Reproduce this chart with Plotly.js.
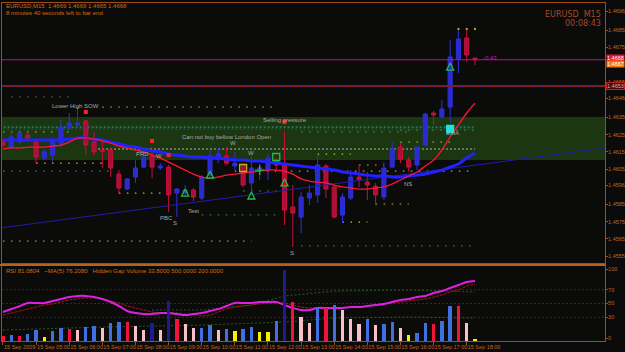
<!DOCTYPE html>
<html><head><meta charset="utf-8">
<script src="https://cdn.plot.ly/plotly-3.0.1.min.js"></script>
<style>html,body{margin:0;padding:0;background:#0b0b0b;}#chart{width:625px;height:352px;}</style>
</head><body><div id="chart"></div>
<script>
// ---------- DATA ----------
const bars = Array.from({length:58},(_,i)=>i); // M15 bar index, 04:00 .. 18:15
const hourTickBars = [0,4,8,12,16,20,24,28,32,36,40,44,48,52,56];
const hourLabels = ["15 Sep 2009","15 Sep 05:00","15 Sep 06:00","15 Sep 07:00","15 Sep 08:00","15 Sep 09:00","15 Sep 10:00","15 Sep 11:00","15 Sep 12:00","15 Sep 13:00","15 Sep 14:00","15 Sep 15:00","15 Sep 16:00","15 Sep 17:00","15 Sep 18:00"];

const openP = [1.46213,1.46178,1.46207,1.46247,1.46207,1.46115,1.46132,1.46201,1.46288,1.46305,
1.46328,1.46207,1.46161,1.46161,1.46023,1.45937,1.46006,1.46063,1.46127,1.46058,
1.46063,1.45914,1.45914,1.45931,1.45885,1.46017,1.46115,1.46127,1.46069,1.46075,
1.45972,1.46052,1.46046,1.46104,1.46075,1.45834,1.45776,1.45885,1.45903,1.46069,
1.45949,1.45788,1.45885,1.46006,1.45977,1.45954,1.45891,1.46063,1.46178,1.46104,
1.46075,1.46190,1.46374,1.46351,1.46408,1.46684,1.46805,1.4669];
const highP = [1.46224,1.46265,1.46265,1.46259,1.46213,1.46161,1.46230,1.46334,1.46374,1.46408,
1.46334,1.46265,1.46207,1.46173,1.46046,1.46000,1.46104,1.46144,1.46161,1.46086,
1.46075,1.45943,1.45960,1.45943,1.46017,1.46161,1.46173,1.46178,1.46150,1.46086,
1.46132,1.46081,1.46138,1.46115,1.46265,1.45960,1.45920,1.45960,1.46132,1.46081,
1.45960,1.45914,1.46046,1.46075,1.46035,1.45972,1.46092,1.46207,1.46201,1.46121,
1.46178,1.46374,1.46385,1.46449,1.46793,1.46851,1.46851,1.4669];
const lowP = [1.46178,1.46173,1.46190,1.46219,1.46086,1.46104,1.46092,1.46178,1.46276,1.46299,
1.46132,1.46132,1.46058,1.46006,1.45914,1.45931,1.45972,1.46058,1.46000,1.46046,
1.45805,1.45776,1.45891,1.45868,1.45874,1.46006,1.46086,1.46075,1.46046,1.45949,
1.45931,1.45989,1.45989,1.46046,1.45730,1.45604,1.45684,1.45845,1.45857,1.45885,
1.45770,1.45742,1.45874,1.45949,1.45874,1.45845,1.45874,1.46058,1.46086,1.46035,
1.46046,1.46184,1.46305,1.46345,1.46322,1.46604,1.46667,1.4665];
const closeP = [1.46190,1.46236,1.46259,1.46230,1.46121,1.46150,1.46219,1.46293,1.46316,1.46316,
1.46190,1.46150,1.46155,1.46058,1.45943,1.45995,1.46058,1.46121,1.46063,1.46069,
1.45903,1.45937,1.45931,1.45891,1.46006,1.46127,1.46138,1.46086,1.46086,1.45960,
1.46058,1.46058,1.46115,1.46075,1.45816,1.45799,1.45891,1.45914,1.46075,1.45937,
1.45776,1.45891,1.46006,1.45989,1.45960,1.45903,1.46058,1.46167,1.46109,1.46063,
1.46178,1.46368,1.46362,1.46397,1.46696,1.46799,1.46707,1.4668];

const slowMA = [1.46219,1.46219,1.46219,1.46219,1.46219,1.46219,1.46219,1.46219,1.46224,1.46230,
1.46230,1.46224,1.46219,1.46207,1.46196,1.46184,1.46178,1.46167,1.46155,1.46150,
1.46138,1.46132,1.46127,1.46121,1.46121,1.46115,1.46115,1.46109,1.46104,1.46104,
1.46098,1.46098,1.46092,1.46086,1.46081,1.46075,1.46069,1.46063,1.46058,1.46052,
1.46046,1.46035,1.46029,1.46023,1.46017,1.46012,1.46012,1.46006,1.46006,1.46012,
1.46017,1.46023,1.46035,1.46046,1.46063,1.46081,1.46115,1.46144];
const fastMA = [1.46167,1.46173,1.46173,1.46178,1.46178,1.46178,1.46184,1.46190,1.46207,1.46230,
1.46230,1.46224,1.46213,1.46201,1.46184,1.46173,1.46161,1.46150,1.46132,1.46115,
1.46092,1.46069,1.46046,1.46023,1.46006,1.46000,1.46006,1.46017,1.46023,1.46029,
1.46035,1.46040,1.46046,1.46046,1.46040,1.46023,1.45995,1.45983,1.45977,1.45972,
1.45960,1.45949,1.45943,1.45937,1.45937,1.45943,1.45949,1.45966,1.45989,1.46012,
1.46035,1.46069,1.46104,1.46161,1.46236,1.46305,1.46374,1.46431];

const trendBars = [-0.36, 72.7];
const trendPrices = [1.45713, 1.46173];

const bidPrice = 1.4668;
const markedLevel = 1.46529;
const zoneTop = 1.46351, zoneBottom = 1.46104;

// dotted levels: start bar, end bar, price, colour
const levelStart = [1,12,0,36,4,0,14,0,28,38,43,29,45,24,41,36,48,48];
const levelEnd   = [8,33,8,49,13,13,20,30,57,42,46,33,49,33,44,57,54,57];
const levelPrice = [1.46466,1.46408,1.46265,1.46265,1.46086,1.46040,1.45914,1.45638,1.46040,1.46138,1.46075,1.45926,1.45851,1.45788,1.45747,1.45610,1.46207,1.46276];
const levelColor = ["#3a8a3a","#7a9a6a","#9aa830","#4a9a3a","#c8c020","#3a8a3a","#c8c020","#a0a030","#a8a840","#c8c020","#c8c020","#3a8a3a","#c8c020","#3a8a3a","#c8c020","#2a8a3a","#a0b030","#3a9a3a"];

const noteText  = ["Lower High SOW","Selling pressure","Can not buy bellow London Open","PRD","W","W","W","PBC","S","Test","S","NS","EMA","-0.43"];
const noteBar   = [8.8,34.0,27.0,16.9,18.8,27.8,30.0,19.8,20.8,23.0,34.9,48.9,54.3,58.8];
const notePrice = [1.46414,1.46334,1.46236,1.46138,1.46127,1.46201,1.46144,1.45770,1.45742,1.45811,1.45569,1.45966,1.46259,1.46690];

const dotBars = [10,18,20,34];
const dotPrices = [1.46380,1.46213,1.46132,1.46322];

const markBars   = [22,25,30,34,33,29,31,54,54];
const markPrices = [1.45937,1.46040,1.45920,1.45995,1.46121,1.46058,1.46046,1.46661,1.46282];
const markSymbols= ["arrow-up-open","arrow-up-open","arrow-up-open","arrow-up-open","square-open","square-open","cross-thin","arrow-up-open","square"];
const markColors = ["#20c040","#20c040","#20c040","#20c040","#20c040","#c0b020","#20c040","#20c040","#20e0e0"];

const fractalBars = [55,56,57];
const fractalPrices = [1.46857,1.46857,1.46857];

const priceTickVals = [1.4555,1.4565,1.4575,1.4585,1.4596,1.4605,1.4615,1.4625,1.4635,1.4646,1.4655,1.4675,1.4685,1.4696];
const priceTickText = ["1.4555","1.4565","1.4575","1.4585","1.4596","1.4605","1.4615","1.4625","1.4635","1.4646","1.4655","1.4675","1.4685","1.4696"];

const rsi = [37.7,42,46,50.7,50.7,50.7,53.6,56.5,59.4,60.9,
60.9,59.4,56.5,52.2,46.4,39.1,36.2,34.8,34.8,36.2,
36.2,34.8,33.3,34.8,36.2,39.1,42,46.4,50.7,50.7,
50.7,52.2,52.2,52.2,47.8,43.5,40.6,40.6,43.5,43.5,
43.5,43.5,44.9,44.9,46.4,47.8,49.3,52.2,55.1,56.5,
59.4,60.9,65.2,68.1,72.5,76.8,81.2,82.6];
const rsiMA = [33.3,36.2,39.1,42,44.9,47.8,49.3,52.2,55.1,56.5,
58,58,56.5,53.6,50.7,46.4,43.5,40.6,37.7,36.2,
36.2,36.2,34.8,34.8,31.9,33.3,37.7,42,44.9,46.4,
47.8,49.3,50.7,50.7,50.7,47.8,44.9,43.5,43.5,43.5,
43.5,43.5,44.9,44.9,46.4,47.8,49.3,50.7,52.2,53.6,
55.1,56.5,59.4,62.3,66.7,69.6,75.4,78.3];
const bandBars  = [18,24,30,34,40,49,57];
const bandUpper = [40.6,40.6,47.8,60.9,68.1,69.6,66.7];
const bandLowBars = [0,12,24,34,40,49,57];
const bandLower = [11.6,15.9,18.8,23.2,29,30.4,29];
const rsiLevels = [30,50,70];

const volume = [50,60,50,70,110,40,100,130,120,110,140,150,130,180,190,190,150,110,180,110,
400,220,170,130,130,160,110,120,100,120,140,90,90,200,710,390,240,180,330,330,
360,310,220,170,220,160,170,190,130,60,80,180,170,200,350,350,180,20];
const volumeType = ["R","B","R","B","B","Y","B","B","R","P","B","B","P","B","B","R","P","P","N","P",
"N","R","P","P","B","B","P","B","Y","B","B","Y","Y","B","N","R","P","P","B","R",
"B","P","P","P","B","P","B","B","P","Y","B","B","R","B","B","R","P","Y"];
const volumeColors = {B:"#3f6fe0",R:"#f0143c",P:"#f8c0c8",Y:"#f8f000",N:"#1c1c90"};

// ---------- DRAWING ----------
const axisCol = "#9a4e1a", textCol = "#c8641c";
const fnt = "Liberation Sans, Arial, sans-serif";

const traces = [];
traces.push({type:'scatter',mode:'lines',x:trendBars,y:trendPrices,line:{color:'#1e1ea8',width:1},hoverinfo:'skip',xaxis:'x',yaxis:'y'});
traces.push({type:'candlestick',x:bars,open:openP,high:highP,low:lowP,close:closeP,
  increasing:{line:{color:'#3030d8',width:1},fillcolor:'#2a2ad0'},
  decreasing:{line:{color:'#c8103c',width:1},fillcolor:'#a81038'},
  whiskerwidth:0,hoverinfo:'skip',xaxis:'x',yaxis:'y'});
traces.push({type:'scatter',mode:'lines',x:bars,y:slowMA,line:{color:'#2222ff',width:3,shape:'spline'},hoverinfo:'skip'});
traces.push({type:'scatter',mode:'lines',x:bars,y:fastMA,line:{color:'#ff1438',width:1.3,shape:'spline'},hoverinfo:'skip'});
traces.push({type:'scatter',mode:'markers',x:dotBars,y:dotPrices,marker:{symbol:'square',size:4,color:'#ff2020'},hoverinfo:'skip'});
traces.push({type:'scatter',mode:'markers',x:markBars,y:markPrices,marker:{symbol:markSymbols,size:7,color:markColors,line:{color:markColors,width:1.3}},hoverinfo:'skip'});
traces.push({type:'scatter',mode:'markers',x:fractalBars,y:fractalPrices,marker:{symbol:'square',size:2,color:'#b0b020'},hoverinfo:'skip'});

// panel
traces.push({type:'bar',x:bars,y:volume,width:0.4,marker:{color:volumeType.map(t=>volumeColors[t]),line:{width:0}},hoverinfo:'skip',xaxis:'x2',yaxis:'y3'});
traces.push({type:'scatter',mode:'lines',x:bandBars,y:bandUpper,line:{color:'#1f5a1f',width:1,dash:'2px,2px'},hoverinfo:'skip',xaxis:'x2',yaxis:'y2'});
traces.push({type:'scatter',mode:'lines',x:bandLowBars,y:bandLower,line:{color:'#1f5a1f',width:1,dash:'2px,2px'},hoverinfo:'skip',xaxis:'x2',yaxis:'y2'});
traces.push({type:'scatter',mode:'lines',x:bars,y:rsiMA,line:{color:'#a01818',width:1,dash:'3px,1px',shape:'spline'},hoverinfo:'skip',xaxis:'x2',yaxis:'y2'});
traces.push({type:'scatter',mode:'lines',x:bars,y:rsi,line:{color:'#e020e0',width:2,shape:'spline'},hoverinfo:'skip',xaxis:'x2',yaxis:'y2'});

const shapes = [];
shapes.push({type:'rect',xref:'x domain',yref:'y',x0:0,x1:1,y0:zoneBottom,y1:zoneTop,fillcolor:'#1b3611',line:{width:0},layer:'below'});
for(let i=0;i<levelPrice.length;i++){
  shapes.push({type:'line',xref:'x',yref:'y',x0:levelStart[i],x1:levelEnd[i],y0:levelPrice[i],y1:levelPrice[i],line:{color:levelColor[i],width:1.2,dash:'1.5px,6.5px'},layer:'below'});
}
shapes.push({type:'line',xref:'x',yref:'y',x0:-0.4,x1:57,y0:1.46293,y1:1.46293,line:{color:'#20a8a0',width:1,dash:'2px,2px'},layer:'below'});
shapes.push({type:'line',xref:'x',yref:'y',x0:-0.4,x1:57,y0:1.46282,y1:1.46282,line:{color:'#1a8880',width:1,dash:'1px,3px'},layer:'below'});
shapes.push({type:'line',xref:'x',yref:'y',x0:11,x1:57,y0:1.46167,y1:1.46167,line:{color:'#b8b8a8',width:1,dash:'2px,2px'},layer:'below'});
shapes.push({type:'line',xref:'x domain',yref:'y',x0:0,x1:1,y0:bidPrice,y1:bidPrice,line:{color:'#c0089a',width:1.2}});
shapes.push({type:'line',xref:'x domain',yref:'y',x0:0,x1:1,y0:markedLevel,y1:markedLevel,line:{color:'#8a1a1a',width:2}});
shapes.push({type:'line',xref:'x domain',yref:'y',x0:0,x1:1,y0:markedLevel,y1:markedLevel,line:{color:'#2a2ab0',width:2,dash:'2px,7px'}});
rsiLevels.forEach(v=>shapes.push({type:'line',xref:'x2 domain',yref:'y2',x0:0,x1:1,y0:v,y1:v,line:{color:'#5a1e10',width:1,dash:'2px,2px'},layer:'below'}));
shapes.push({type:'line',xref:'paper',yref:'paper',x0:0,x1:0.968,y0:1-265/352,y1:1-265/352,line:{color:'#b8601c',width:2}});

const annotations = [];
for(let i=0;i<noteText.length;i++){
  annotations.push({x:noteBar[i],y:notePrice[i],xref:'x',yref:'y',text:noteText[i],showarrow:false,
    font:{family:fnt,size:6,color:i===noteText.length-1?'#b020c0':'#a8a8a8'}});
}
annotations.push({xref:'paper',yref:'paper',x:0.0064,y:1-6/352,xanchor:'left',yanchor:'middle',showarrow:false,
  text:'EURUSD,M15  1.4669 1.4669 1.4665 1.4668',font:{family:fnt,size:6,color:'#d06a18'}});
annotations.push({xref:'paper',yref:'paper',x:0.0064,y:1-12.5/352,xanchor:'left',yanchor:'middle',showarrow:false,
  text:'8 minutes 40 seconds left to bar end',font:{family:fnt,size:6,color:'#d06a18'}});
annotations.push({xref:'paper',yref:'paper',x:603/625,y:1-15/352,xanchor:'right',yanchor:'middle',showarrow:false,
  text:'EURUSD  M15',font:{family:'DejaVu Sans',size:8,color:'#a8482a'}});
annotations.push({xref:'paper',yref:'paper',x:603/625,y:1-23.5/352,xanchor:'right',yanchor:'middle',showarrow:false,
  text:'00:08:43',font:{family:'DejaVu Sans',size:8,color:'#a8482a'}});
annotations.push({xref:'paper',yref:'paper',x:0.0064,y:1-271/352,xanchor:'left',yanchor:'middle',showarrow:false,
  text:'RSI 81.0804   ~MA(5) 76.2080   Hidden Gap Volume 33.8000 500.0000 200.0000',font:{family:fnt,size:6,color:'#d06a18'}});
// price boxes on the right axis
annotations.push({xref:'paper',yref:'y',x:606/625,y:1.46690,xanchor:'left',yanchor:'middle',showarrow:false,text:'1.4668',
  bgcolor:'#e8102c',borderpad:0,font:{family:fnt,size:5.5,color:'#ffffff'}});
annotations.push({xref:'paper',yref:'y',x:606/625,y:1.46658,xanchor:'left',yanchor:'middle',showarrow:false,text:'1.4667',
  bgcolor:'#f07a10',borderpad:0,font:{family:fnt,size:5.5,color:'#ffffff'}});
annotations.push({xref:'paper',yref:'y',x:606/625,y:markedLevel,xanchor:'left',yanchor:'middle',showarrow:false,text:'1.4653',
  bgcolor:'#4a0808',bordercolor:'#c02020',borderwidth:1,borderpad:0,font:{family:fnt,size:5.5,color:'#e0b0a0'}});

const layout = {
  width:625,height:352,margin:{l:0,r:0,t:0,b:0},
  paper_bgcolor:'#0b0b0b',plot_bgcolor:'#0b0c0a',showlegend:false,hovermode:false,dragmode:false,
  xaxis:{domain:[2/625,605/625],range:[-0.12,72.7],anchor:'y',showticklabels:false,ticks:'',showgrid:false,zeroline:false,
    showline:true,mirror:true,linecolor:axisCol,linewidth:1,rangeslider:{visible:false},fixedrange:true},
  xaxis2:{domain:[2/625,605/625],range:[-0.12,72.7],anchor:'y2',showgrid:false,zeroline:false,
    showline:true,mirror:true,linecolor:axisCol,linewidth:1,
    tickmode:'array',tickvals:hourTickBars,ticktext:hourLabels,ticks:'outside',ticklen:3,tickcolor:axisCol,tickangle:0,
    ticklabelposition:'outside right',ticklabelstandoff:0,tickfont:{family:fnt,size:5.5,color:textCol},fixedrange:true},
  yaxis:{domain:[1-263/352,1-3/352],range:[1.45512,1.47006],anchor:'x',side:'right',showgrid:false,zeroline:false,
    showline:true,mirror:true,linecolor:axisCol,linewidth:1,
    tickmode:'array',tickvals:priceTickVals,ticktext:priceTickText,ticks:'outside',ticklen:2,tickcolor:axisCol,
    ticklabelstandoff:-1,tickfont:{family:fnt,size:5.5,color:textCol},fixedrange:true},
  yaxis2:{domain:[1-341/352,1-265/352],range:[-4.3,105.8],anchor:'x2',side:'right',showgrid:false,zeroline:false,
    showline:true,mirror:true,linecolor:axisCol,linewidth:1,
    tickmode:'array',tickvals:[0,30,50,70,100],ticktext:['0','30','50','70','100'],ticks:'outside',ticklen:2,tickcolor:axisCol,
    ticklabelstandoff:-1,tickfont:{family:fnt,size:5.5,color:textCol},fixedrange:true},
  yaxis3:{overlaying:'y2',anchor:'x2',range:[0,760],visible:false,fixedrange:true},
  shapes:shapes,annotations:annotations,bargap:0
};
Plotly.newPlot('chart',traces,layout,{staticPlot:true,displayModeBar:false});
</script></body></html>
